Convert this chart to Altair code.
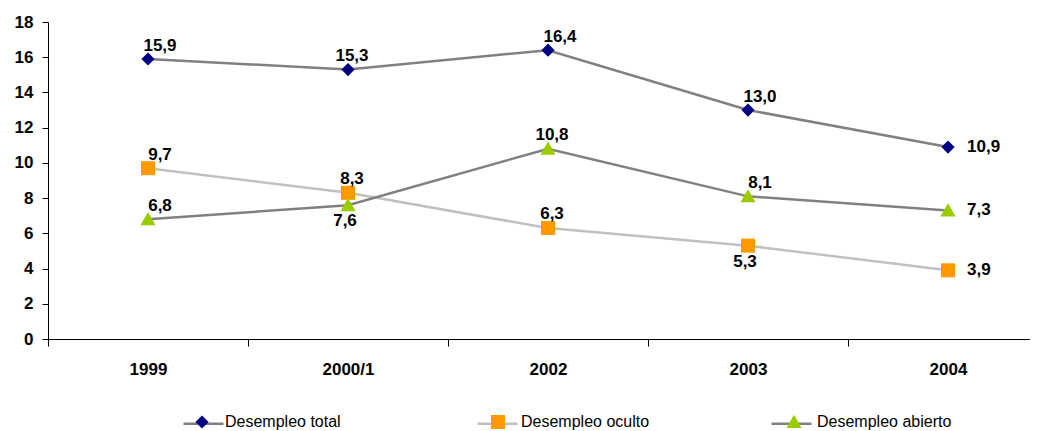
import altair as alt
import pandas as pd

years = ["1999", "2000/1", "2002", "2003", "2004"]
series = ["Desempleo total", "Desempleo oculto", "Desempleo abierto"]
total = [15.9, 15.3, 16.4, 13.0, 10.9]
oculto = [9.7, 8.3, 6.3, 5.3, 3.9]
abierto = [6.8, 7.6, 10.8, 8.1, 7.3]

# label placement per point: "up", "upc" (above, centred), "down" or "right"
place_total = ["up", "upc", "up", "up", "right"]
place_oculto = ["up", "upc", "upc", "down", "right"]
place_abierto = ["up", "down", "upc", "up", "right"]

rows = []
for s, vals, pl in zip(series, [total, oculto, abierto], [place_total, place_oculto, place_abierto]):
    for y, v, p in zip(years, vals, pl):
        rows.append({"year": y, "series": s, "value": v,
                     "label": f"{v:.1f}".replace(".", ","), "place": p})
df = pd.DataFrame(rows)

FONT = "Liberation Sans"

DIAMOND = "M0,-0.33L0.33,0L0,0.33L-0.33,0Z"
SQUARE = "M-0.35,-0.35H0.35V0.35H-0.35Z"
TRIANGLE = "M0,-0.36L0.38,0.3L-0.38,0.3Z"

x = alt.X("year:N", sort=years, title=None,
          scale=alt.Scale(paddingInner=0, paddingOuter=0, range=[0, 1000]),
          axis=alt.Axis(tickBand="extent", labelAngle=0, labelFont=FONT, labelFontSize=17,
                        labelFontWeight="bold", labelColor="black", tickColor="black",
                        domainColor="black", tickSize=7, labelPadding=15, grid=False))
y = alt.Y("value:Q", title=None,
          scale=alt.Scale(domain=[0, 18], nice=False, zero=True),
          axis=alt.Axis(values=list(range(0, 19, 2)), labelFont=FONT, labelFontSize=17,
                        labelFontWeight="bold", labelColor="black", tickColor="black",
                        domainColor="black", tickSize=6, labelPadding=9, grid=False))

leg_common = dict(title=None, orient="none", direction="horizontal", legendX=134, legendY=380,
                  padding=0, labelFont=FONT, labelFontSize=16, labelColor="black",
                  labelOffset=3, symbolSize=1600, gridAlign="all")

base = alt.Chart(df)

lines = base.mark_line(strokeWidth=2.5).encode(
    x=x, y=y,
    color=alt.Color("series:N", sort=series,
                    scale=alt.Scale(domain=series, range=["#808080", "#C0C0C0", "#808080"]),
                    legend=alt.Legend(symbolType="stroke", symbolStrokeWidth=2.5,
                                      labelExpr="''", columnPadding=243, **leg_common)),
)

points = base.mark_point(filled=True, opacity=1, size=1600).encode(
    x=x, y=y,
    shape=alt.Shape("series:N", sort=series,
                    scale=alt.Scale(domain=series, range=[DIAMOND, SQUARE, TRIANGLE]),
                    legend=alt.Legend(symbolStrokeWidth=0, symbolOpacity=1,
                                      columnPadding=118, **leg_common)),
    color=alt.Color("series:N", sort=series,
                    scale=alt.Scale(domain=series, range=["#000080", "#FF9900", "#99CC00"]),
                    legend=alt.Legend(symbolStrokeWidth=0, symbolOpacity=1,
                                      columnPadding=118, **leg_common)),
)

txt = dict(font=FONT, fontSize=17, fontWeight="bold", color="black")
lab_up = base.transform_filter(alt.datum.place == "up").mark_text(dx=12, dy=-13, **txt).encode(
    x=x, y=y, text="label:N")
lab_upc = base.transform_filter(alt.datum.place == "upc").mark_text(dx=4, dy=-14, **txt).encode(
    x=x, y=y, text="label:N")
lab_down = base.transform_filter(alt.datum.place == "down").mark_text(dx=-3, dy=16, **txt).encode(
    x=x, y=y, text="label:N")
lab_right = base.transform_filter(alt.datum.place == "right").mark_text(
    align="left", dx=19, dy=0, **txt).encode(x=x, y=y, text="label:N")

chart = alt.layer(lines, points, lab_up, lab_upc, lab_down, lab_right).resolve_scale(
    color="independent", shape="independent"
).properties(
    width=982, height=317,
    autosize=alt.AutoSizeParams(type="none"),
    padding={"left": 40, "top": 14, "right": 0, "bottom": 92},
    background="white",
).configure_view(stroke=None)

chart.save("out.html", embed_options={"renderer": "svg", "actions": False})
